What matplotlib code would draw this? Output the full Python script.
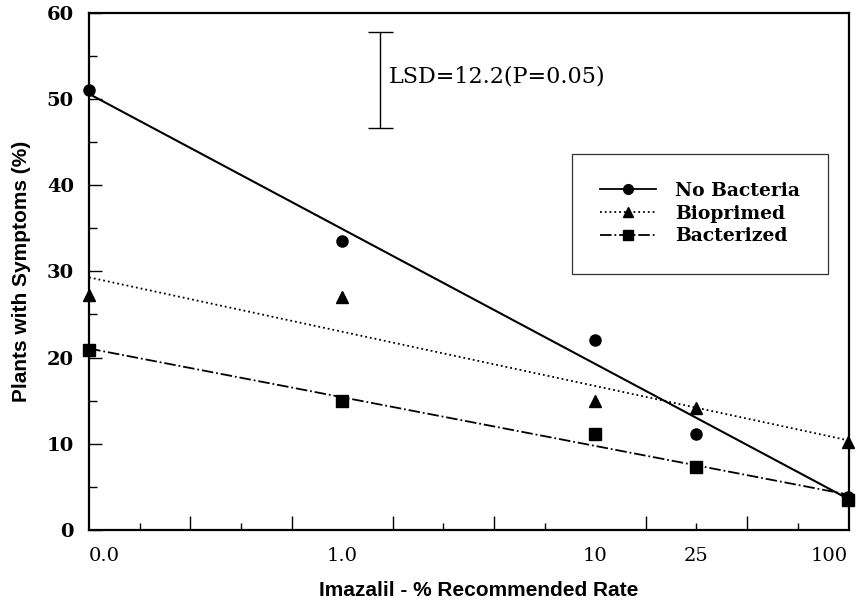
import numpy as np
import matplotlib
matplotlib.use("Agg")
import matplotlib.pyplot as plt

# imazalil rate (% of recommended), 0.0 plotted at one decade below 1.0
rate = [0.1, 1, 10, 25, 100]
rate_labels = ["0.0", "1.0", "10", "25", "100"]

no_bacteria = [51.0, 33.5, 22.0, 11.1, 3.8]
bioprimed = [27.2, 27.0, 15.0, 14.2, 10.2]
bacterized = [20.9, 15.0, 11.1, 7.3, 3.5]

series = [
    ("No Bacteria", no_bacteria, "-", "o"),
    ("Bioprimed", bioprimed, ":", "^"),
    ("Bacterized", bacterized, "-.", "s"),
]

lsd = 12.2

fig = plt.figure(figsize=(8.57, 6.05), dpi=100)
ax = fig.add_axes([0.104, 0.124, 0.887, 0.855])

lx = np.log10(rate)
for name, y, ls, mk in series:
    # log-linear regression line through each treatment
    b, a = np.polyfit(lx, y, 1)
    fit = a + b * lx
    ax.plot(rate, fit, ls=ls, color="black", lw=1.5 if ls == "-" else 1.3)
    ax.plot(rate, y, ls="none", marker=mk, color="black", ms=8 if mk != "^" else 8.5,
            clip_on=False, zorder=5)
    ax.plot([], [], ls=ls, marker=mk, color="black", ms=7, lw=1.3, label=name)

# LSD bar
ax.errorbar([1.41], [52.2], yerr=[[5.6], [5.6]], fmt="none", ecolor="black",
            elinewidth=1.0, capsize=9, capthick=1.0)
ax.text(1.53, 52.6, "LSD=12.2(P=0.05)", fontsize=16, family="DejaVu Serif",
        va="center", ha="left")

ax.set_xscale("log")
ax.set_xlim(0.1, 101)
ax.set_ylim(0, 60)

ax.set_xticks(rate, rate_labels)
ax.tick_params(axis="x", which="major", length=0, pad=12)
minor_k = [k for k in range(1, 15) if k != 5]
ax.set_xticks([10 ** (-1 + 0.2 * k) for k in minor_k], minor=True)
ax.xaxis.set_minor_formatter(matplotlib.ticker.NullFormatter())
ax.tick_params(axis="x", which="minor", direction="in", length=5, width=1)
for k, t in zip(minor_k, ax.xaxis.get_minor_ticks()):
    if k % 2 == 0:
        t.tick1line.set_markersize(10)

ax.set_yticks(range(0, 61, 10))
ax.set_yticks(range(5, 60, 10), minor=True)
ax.tick_params(axis="y", which="major", direction="in", length=9, width=1, pad=11)
ax.tick_params(axis="y", which="minor", direction="in", length=6, width=1)

xlabs = ax.get_xticklabels()
for lab in xlabs:
    lab.set_fontfamily("DejaVu Serif")
    lab.set_fontsize(14)
xlabs[0].set_ha("left")
xlabs[-1].set_ha("right")
for lab in ax.get_yticklabels():
    lab.set_fontfamily("DejaVu Serif")
    lab.set_fontweight("bold")
    lab.set_fontsize(14)

for s in ax.spines.values():
    s.set_linewidth(1.6)

ax.set_xlabel("Imazalil - % Recommended Rate", fontsize=15, fontweight="bold",
              family="Liberation Sans")
ax.xaxis.set_label_coords(0.513, -0.098)
ax.set_ylabel("Plants with Symptoms (%)", fontsize=15, fontweight="bold",
              family="Liberation Sans", labelpad=11)

leg = ax.legend(loc="upper left", bbox_to_anchor=(0.635, 0.727), frameon=True,
                fancybox=False, edgecolor="black", borderpad=1.5, handlelength=3.0,
                labelspacing=0.25, handletextpad=1.0, borderaxespad=0,
                prop={"family": "DejaVu Serif", "weight": "bold", "size": 13.5})
leg.get_frame().set_linewidth(0.9)

fig.savefig("out.png", dpi=100)
